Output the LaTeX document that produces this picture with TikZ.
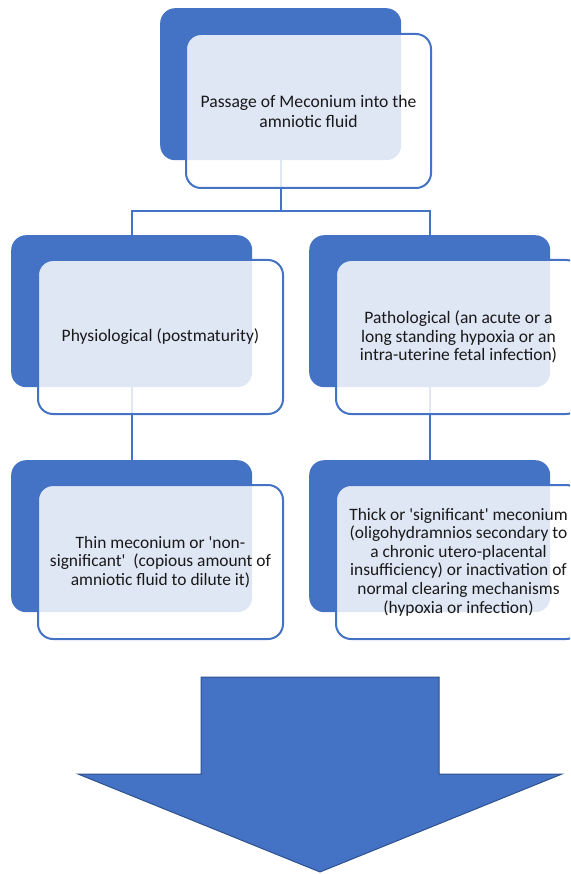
\documentclass[tikz,border=0pt]{standalone}
\usepackage{fontspec}
\setmainfont{Carlito}
\definecolor{accent}{HTML}{4472C4}
\definecolor{arrowedge}{HTML}{2F528F}
\tikzset{
  backbox/.style={fill=accent, draw=none, rounded corners=15pt,
    minimum width=241pt, minimum height=152pt, inner sep=0pt, anchor=north west},
  frontbox/.style={fill=white, fill opacity=0.83, text opacity=1, draw=accent,
    draw opacity=1, line width=2pt, rounded corners=15pt,
    minimum width=245pt, minimum height=154pt, inner sep=0pt,
    anchor=north west, align=center, text=black!90},
  link/.style={draw=accent, line width=2.2pt},
  bigtxt/.style={font=\fontsize{17.6}{20}\selectfont},
  midtxt/.style={font=\fontsize{17.5}{18.8}\selectfont},
  smalltxt/.style={font=\fontsize{17.4}{18.6}\selectfont},
  bigarrow/.style={fill=accent, draw=arrowedge, line width=1pt, line join=miter},
}
\begin{document}
\begin{tikzpicture}[x=1pt,y=-1pt]
\useasboundingbox (0,0) rectangle (570,874);
\clip (0,0) rectangle (570,874);
% back boxes
\node[backbox] (topB) at (160,8) {};
\node[backbox] (L2B) at (11,235) {};
\node[backbox] (R2B) at (309,235) {};
\node[backbox] (L3B) at (11,460) {};
\node[backbox] (R3B) at (309,460) {};
% connectors
\coordinate (bar) at (0,211);
\draw[link] (topB.south) -- (topB.south |- bar);
\draw[link] (L2B.north) |- (R2B.north |- bar) -- (R2B.north);
\draw[link] (L2B.south) -- (L3B.north);
\draw[link] (R2B.south) -- (R3B.north);
% front boxes
\node[frontbox, bigtxt] (topF) at (185,33) {Passage of Meconium into the\\amniotic fluid};
\node[frontbox, midtxt] (L2F) at (37,259) {Physiological (postmaturity)};
\node[frontbox, midtxt] (R2F) at (335,259) {Pathological (an acute or a\\long standing hypoxia or an\\intra-uterine fetal infection)};
\node[frontbox, smalltxt] (L3F) at (37,484) {Thin meconium or \textquotesingle non-\\significant\textquotesingle\ \ (copious amount of\\amniotic fluid to dilute it)};
\node[frontbox, smalltxt] (R3F) at (335,484) {Thick or \textquotesingle significant\textquotesingle\ meconium\\(oligohydramnios secondary to\\a chronic utero-placental\\insufficiency) or inactivation of\\normal clearing mechanisms\\(hypoxia or infection)};
% big arrow
\coordinate (a1) at (201,677);
\coordinate (a2) at (439,677);
\coordinate (a3) at (439,774);
\coordinate (a4) at (562,774);
\coordinate (tip) at (320,872);
\coordinate (a6) at (78,774);
\coordinate (a7) at (201,774);
\draw[bigarrow] (a1) -- (a2) -- (a3) -- (a4) -- (tip) -- (a6) -- (a7) -- cycle;
\end{tikzpicture}
\end{document}
